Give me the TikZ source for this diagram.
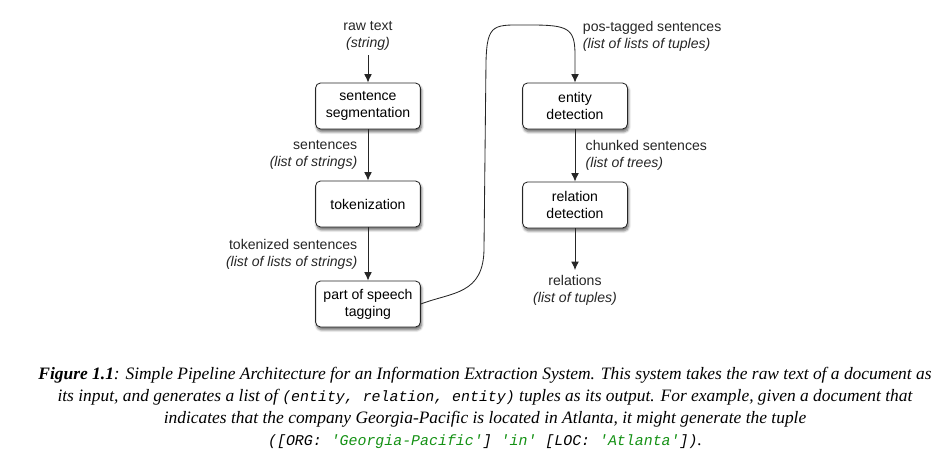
\documentclass[tikz,border=0pt]{standalone}
\usepackage{fontspec}
\setmainfont{Liberation Serif}
\setsansfont{Liberation Sans}
\setmonofont{Liberation Mono}
\usetikzlibrary{arrows.meta,shadows.blur}
\tikzset{>={Latex[length=6pt,width=5.5pt]}}
\definecolor{strgreen}{RGB}{20,145,20}
\newcommand{\capcode}[1]{{\fontsize{10.6}{15.6}\selectfont\ttfamily\itshape #1}}

\begin{document}
\begin{tikzpicture}[x=0.025cm, y=0.025cm,
  stagebox/.style={rectangle, rounded corners=3.5pt, draw=black!85, fill=white,
    line width=0.6pt, minimum width=2.62cm, minimum height=1.15cm, align=center,
    font=\sffamily\fontsize{10}{12}\selectfont, inner sep=2pt,
    blur shadow={shadow xshift=0.8pt, shadow yshift=-2pt, shadow blur steps=6, shadow opacity=60}},
  flow/.style={->, line width=0.6pt, color=black!85},
  lbl/.style={font=\sffamily\fontsize{10}{12}\selectfont, text=black!85},
  captext/.style={font=\fontsize{12.4}{15.6}\selectfont\itshape, align=center, text=black}
]
\useasboundingbox (0,0) rectangle (939,460);

% ---------- Left column ----------
\node[stagebox] (seg) at (368,354) {sentence\\segmentation};
\node[stagebox] (tok) at (368,256) {tokenization};
\node[stagebox] (pos) at (368,156) {part of speech\\tagging};

% ---------- Right column ----------
\node[stagebox] (ent) at (575,354) {entity\\detection};
\node[stagebox] (rel) at (575,255) {relation\\detection};

% ---------- Input / output ----------
\node[lbl, align=center] (raw) at (368,424) {raw text\\\textit{(string)}};
\node[lbl, align=center] (out) at (575,170) {relations\\\textit{(list of tuples)}};
\node[lbl, anchor=west, align=left] (postag) at (578,424)
  {pos-tagged sentences\\\textit{(list of lists of tuples)}};

% ---------- Flow arrows ----------
\draw[flow] (raw) -- (seg);
\draw[flow] (seg) -- (tok)
  node[lbl, midway, left=4pt, align=right] (sents) {sentences\\\textit{(list of strings)}};
\draw[flow] (tok) -- (pos)
  node[lbl, midway, left=4pt, align=right] (toks) {tokenized sentences\\\textit{(list of lists of strings)}};
\draw[flow] (pos.east) .. controls (452,168) and (484,165) .. (484,212)
  -- (486,398) .. controls (487,438) and (494,435) .. (530,435)
  .. controls (568,435) and (575,432) .. (575,405) -- (ent.north);
\draw[flow] (ent) -- (rel)
  node[lbl, midway, right=4pt, align=left] (chunks) {chunked sentences\\\textit{(list of trees)}};
\draw[flow] (rel) -- (out);

% ---------- Caption ----------
\node[captext] (cap) at (485,52)
  {\textbf{Figure 1.1}: Simple Pipeline Architecture for an Information Extraction System. This system takes the raw text of a document as\\
   its input, and generates a list of \capcode{(entity, relation, entity)} tuples as its output. For example, given a document that\\
   indicates that the company Georgia-Pacific is located in Atlanta, it might generate the tuple\\
   \capcode{([ORG: \textcolor{strgreen}{'Georgia-Pacific'}] \textcolor{strgreen}{'in'} [LOC: \textcolor{strgreen}{'Atlanta'}])}.};

\end{tikzpicture}
\end{document}
